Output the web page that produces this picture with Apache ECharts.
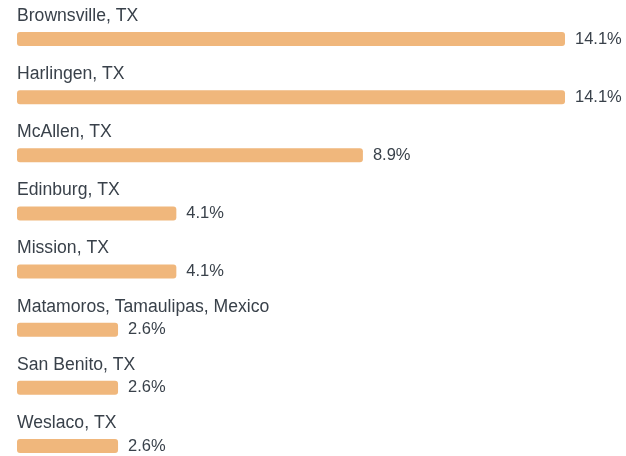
<!DOCTYPE html>
<html>
<head>
<meta charset="utf-8">
<style>
  html, body { margin: 0; padding: 0; background: #fff; }
  #chart { width: 626px; height: 456px; }
</style>
<script src="https://cdn.jsdelivr.net/npm/echarts@6/dist/echarts.min.js"></script>
</head>
<body>
<div id="chart"></div>
<script>
// 城市与占比
var cities = ['Brownsville, TX', 'Harlingen, TX', 'McAllen, TX', 'Edinburg, TX',
  'Mission, TX', 'Matamoros, Tamaulipas, Mexico', 'San Benito, TX', 'Weslaco, TX'];
var shares = [14.1, 14.1, 8.9, 4.1, 4.1, 2.6, 2.6, 2.6];

var textColor = '#39414a';
var myChart = echarts.init(document.getElementById('chart'));

myChart.setOption({
  animation: false,
  grid: { left: 17, top: 39, width: 548, height: 407 },
  xAxis: {
    type: 'value', min: 0, max: Math.max.apply(null, shares),
    show: false
  },
  yAxis: {
    type: 'category', inverse: true, data: cities, boundaryGap: false,
    axisLine: { show: false }, axisTick: { show: false }, splitLine: { show: false },
    axisLabel: {
      inside: true, margin: 0, align: 'left', verticalAlign: 'bottom',
      padding: [0, 0, 14, 0],
      color: textColor, fontSize: 17.6, fontFamily: 'Liberation Sans'
    }
  },
  series: [{
    type: 'bar',
    data: shares,
    barWidth: 14,
    itemStyle: { color: '#f0b77c', borderRadius: 3 },
    label: {
      show: true, position: 'right', distance: 10,
      color: textColor, fontSize: 16.5, fontFamily: 'Liberation Sans',
      formatter: function (p) { return p.value.toFixed(1) + '%'; }
    }
  }]
});
</script>
</body>
</html>
